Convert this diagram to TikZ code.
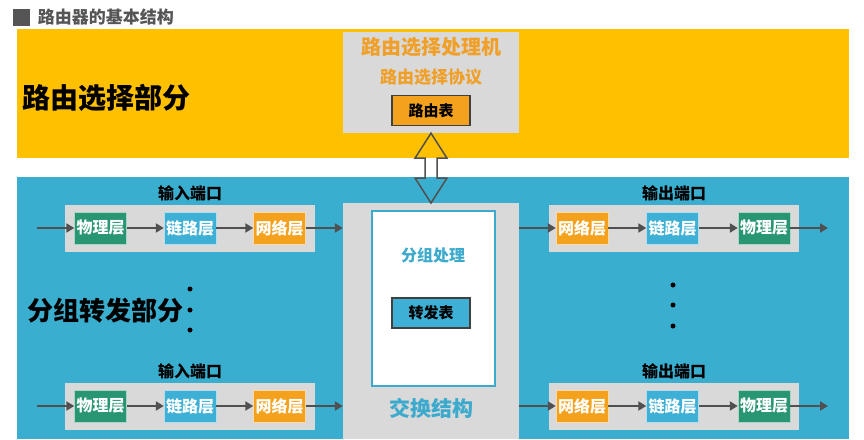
\documentclass[tikz,border=0pt]{standalone}
\usepackage{fontspec}
\setmainfont{Noto Sans CJK SC}
\usetikzlibrary{arrows.meta,positioning,calc}

\definecolor{bandyellow}{RGB}{255,192,0}
\definecolor{bandblue}{RGB}{58,174,207}
\definecolor{panelgray}{RGB}{217,217,217}
\definecolor{phygreen}{RGB}{40,150,115}
\definecolor{linkblue}{RGB}{62,176,214}
\definecolor{netorange}{RGB}{244,162,30}
\definecolor{arrowgray}{RGB}{80,80,80}
\definecolor{titlegray}{RGB}{85,85,85}
\definecolor{textorange}{RGB}{240,160,40}
\definecolor{textblue}{RGB}{60,170,205}

\tikzset{
  layer/.style={minimum width=52pt,minimum height=32pt,inner sep=0pt,text=white,
    font=\bfseries\fontsize{16}{16}\selectfont},
  phy/.style={layer,fill=phygreen,draw=white!60!phygreen},
  link/.style={layer,fill=linkblue,draw=white!60!linkblue},
  net/.style={layer,fill=netorange,draw=white!60!netorange},
  port/.style={fill=panelgray,minimum width=250pt,minimum height=47pt,inner sep=0pt},
  portname/.style={font=\bfseries\fontsize{16}{16}\selectfont},
  table/.style={draw=darkgray,line width=1.5pt,minimum width=78pt,minimum height=30pt,
    inner sep=0pt,font=\bfseries\fontsize{15}{15}\selectfont},
  flow/.style={draw=arrowgray,line width=2pt,-{Triangle[length=8pt,width=9pt]}},
  dot/.style={circle,fill=black,inner sep=0pt,minimum size=5pt},
}

\begin{document}
\begin{tikzpicture}[x=1pt,y=-1pt]
\useasboundingbox (0,0) rectangle (864,439);
% bands
\fill[bandyellow] (17,29) rectangle (849,158);
\fill[bandblue] (17,177) rectangle (849,439);

\node (mark) [fill=titlegray,minimum size=17pt,inner sep=0pt] at (21,17) {};
\node (title) [right=8pt of mark,inner sep=0pt,text=titlegray,
  font=\bfseries\fontsize{17}{17}\selectfont] {路由器的基本结构};

\node (route) [anchor=west,inner sep=0pt,font=\bfseries\fontsize{28}{28}\selectfont]
  at (22,98) {路由选择部分};
\node (forward) [anchor=west,inner sep=0pt,font=\bfseries\fontsize{26}{26}\selectfont]
  at (27,311) {分组转发部分};

% routing processor
\node (rp) [fill=panelgray,minimum width=176pt,minimum height=101pt,inner sep=0pt] at (431,82.5) {};
\node (rpname) [text=textorange,font=\bfseries\fontsize{20}{20}\selectfont] at (431,47) {路由选择处理机};
\node (proto) [text=textorange,font=\bfseries\fontsize{17}{17}\selectfont] at (431,77) {路由选择协议};
\node (rtable) [table,fill=netorange] at (431,110.5) {路由表};

% switch fabric
\node (sw) [fill=panelgray,minimum width=176pt,minimum height=236pt,inner sep=0pt,anchor=north] at (431,203) {};
\node (proc) [fill=white,draw=textblue,line width=1.5pt,minimum width=123pt,minimum height=175pt,
  inner sep=0pt,anchor=north] at (433.5,210) {};
\node (proclabel) [text=textblue,font=\bfseries\fontsize{16}{16}\selectfont] at (433,255) {分组处理};
\node (ftable) [table,fill=linkblue] at (431,313) {转发表};
\node (swlabel) [text=textblue,font=\bfseries\fontsize{21}{21}\selectfont] at (431,408) {交换结构};

% hollow two-way arrow
\draw[arrowgray,line width=1.5pt,line join=miter]
  (rp.south) -- ++(16,25) -- ++(-10,0) -- ($(sw.north)+(6,-25)$) -- ++(10,0)
  -- (sw.north) -- ++(-16,-25) -- ++(10,0) -- ($(rp.south)+(-6,25)$) -- ++(-10,0) -- cycle;

% ports
\foreach \y/\n in {228/a,406/b}{
  \node (pin\n) [port] at (190,\y) {};
  \node (lin\n) [portname,above=0pt of pin\n] {输入端口};
  \node (phyi\n) [phy] at (100.5,\y) {物理层};
  \node (linki\n) [link] at (190,\y) {链路层};
  \node (neti\n) [net] at (279.5,\y) {网络层};
  \coordinate (src\n) at (37,\y);
  \draw[flow] (src\n) -- (phyi\n);
  \draw[flow] (phyi\n) -- (linki\n);
  \draw[flow] (linki\n) -- (neti\n);
  \draw[flow] (neti\n) -- (neti\n -| sw.west);

  \node (pout\n) [port] at (674,\y) {};
  \node (lout\n) [portname,above=0pt of pout\n] {输出端口};
  \node (neto\n) [net] at (582,\y) {网络层};
  \node (linko\n) [link] at (672.5,\y) {链路层};
  \node (phyo\n) [phy] at (764,\y) {物理层};
  \coordinate (dst\n) at (828,\y);
  \draw[flow] (neto\n -| sw.east) -- (neto\n);
  \draw[flow] (neto\n) -- (linko\n);
  \draw[flow] (linko\n) -- (phyo\n);
  \draw[flow] (phyo\n) -- (dst\n);
}

\foreach \y in {289,310,330}
  \node (dl\y) [dot] at (190,\y) {};
\foreach \y in {285,305,326}
  \node (dr\y) [dot] at (673,\y) {};
\end{tikzpicture}
\end{document}
